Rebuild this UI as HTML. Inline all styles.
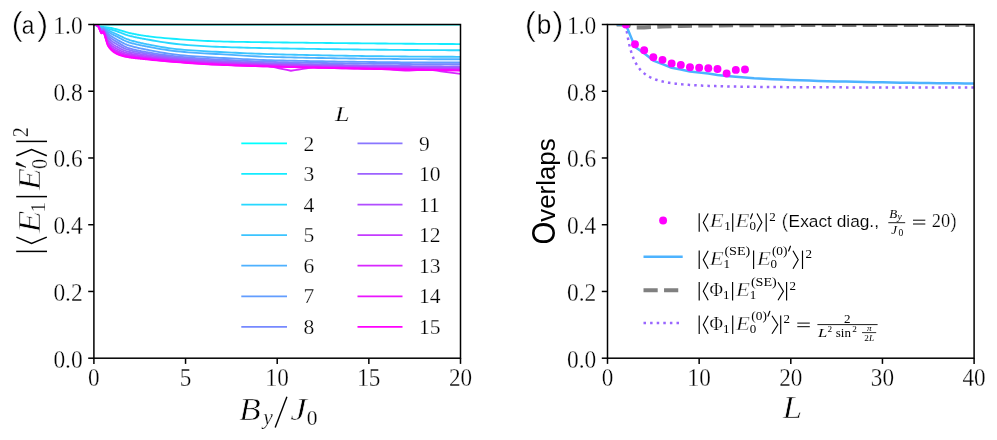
<!DOCTYPE html>
<html><head><meta charset="utf-8"><title>figure</title>
<style>html,body{margin:0;padding:0;background:#fff;}svg{display:block;}</style>
</head><body>
<svg style="will-change:transform" width="997" height="440" viewBox="0 0 997 440">
<rect width="997" height="440" fill="#fff"/>
<defs>
<clipPath id="ca"><rect x="93.9" y="24.5" width="366.6" height="333.7"/></clipPath>
<clipPath id="cb"><rect x="607.5" y="24.5" width="366.6" height="333.7"/></clipPath>
</defs>
<g clip-path="url(#ca)">
<path d="M93.9 24.5 L460.5 24.5" fill="none" stroke="#00ffff" stroke-width="1.85" stroke-linejoin="round" />
<path d="M93.9 24.5 L94.08 24.56 L94.26 24.62 L94.44 24.68 L94.61 24.74 L94.79 24.81 L94.97 24.87 L95.15 24.94 L95.33 25.01 L95.51 25.08 L95.69 25.15 L95.87 25.22 L96.04 25.3 L96.22 25.39 L96.4 25.47 L96.58 25.56 L96.76 25.65 L96.94 25.73 L97.12 25.82 L97.29 25.9 L97.47 25.97 L97.65 26.03 L97.83 26.09 L98.01 26.15 L98.19 26.2 L98.37 26.26 L98.55 26.3 L98.72 26.35 L98.9 26.39 L99.08 26.43 L99.26 26.47 L99.44 26.51 L99.62 26.54 L99.8 26.57 L99.97 26.6 L100.15 26.63 L100.33 26.65 L100.51 26.68 L100.69 26.7 L100.87 26.73 L101.05 26.76 L101.23 26.79 L101.4 26.81 L101.58 26.83 L101.76 26.85 L101.94 26.87 L102.12 26.88 L102.3 26.9 L102.48 26.92 L102.65 26.93 L102.83 26.95 L103.01 26.96 L103.19 26.98 L103.37 27 L103.55 27.02 L103.73 27.04 L103.9 27.06 L104.08 27.08 L104.26 27.1 L104.44 27.11 L104.62 27.13 L104.8 27.14 L104.98 27.16 L105.16 27.18 L105.33 27.19 L105.51 27.21 L105.69 27.23 L105.87 27.24 L106.05 27.26 L106.23 27.27 L106.41 27.29 L106.58 27.31 L106.76 27.32 L106.94 27.34 L107.12 27.35 L107.3 27.37 L107.48 27.38 L107.66 27.4 L107.84 27.42 L108.01 27.44 L108.85 27.55 L109.68 27.69 L110.52 27.84 L111.35 28.02 L112.19 28.2 L113.02 28.4 L113.85 28.6 L114.69 28.81 L115.52 29.02 L116.36 29.23 L117.19 29.44 L118.02 29.64 L118.86 29.86 L119.69 30.11 L120.53 30.36 L121.36 30.63 L122.2 30.9 L123.03 31.18 L123.86 31.45 L124.7 31.72 L125.53 31.97 L126.37 32.22 L127.2 32.44 L128.03 32.65 L128.87 32.85 L129.7 33.04 L130.54 33.23 L131.37 33.41 L132.21 33.59 L133.04 33.77 L133.87 33.94 L134.71 34.11 L135.54 34.27 L136.38 34.43 L137.21 34.59 L138.05 34.74 L138.88 34.89 L139.71 35.04 L140.55 35.18 L141.38 35.32 L142.22 35.45 L143.05 35.58 L143.88 35.71 L144.72 35.83 L145.55 35.95 L146.39 36.07 L147.22 36.18 L148.06 36.29 L148.89 36.4 L152.83 36.87 L156.78 37.31 L160.72 37.7 L164.67 38.07 L168.61 38.41 L172.56 38.73 L176.5 39.03 L180.45 39.31 L184.39 39.59 L188.33 39.86 L192.28 40.12 L196.22 40.37 L200.17 40.6 L204.11 40.82 L208.06 41.01 L212 41.18 L215.95 41.33 L219.89 41.45 L223.83 41.55 L227.78 41.64 L231.72 41.72 L235.67 41.8 L239.61 41.87 L243.56 41.93 L247.5 41.99 L251.45 42.05 L255.39 42.11 L259.33 42.16 L263.28 42.21 L267.22 42.26 L271.17 42.31 L275.11 42.36 L279.06 42.41 L283 42.46 L286.95 42.51 L290.89 42.56 L294.83 42.61 L298.78 42.66 L302.72 42.7 L306.67 42.75 L310.61 42.8 L314.56 42.84 L318.5 42.89 L322.44 42.93 L326.39 42.97 L330.33 43.01 L334.28 43.06 L338.22 43.1 L342.17 43.14 L346.11 43.18 L350.06 43.22 L354 43.26 L357.94 43.29 L361.89 43.33 L365.83 43.37 L369.78 43.4 L373.72 43.44 L377.67 43.48 L381.61 43.51 L385.56 43.54 L389.5 43.58 L393.44 43.61 L397.39 43.64 L401.33 43.67 L405.28 43.71 L409.22 43.74 L413.17 43.77 L417.11 43.8 L421.06 43.82 L425 43.85 L428.94 43.88 L432.89 43.91 L436.83 43.94 L440.78 43.96 L444.72 43.99 L448.67 44.01 L452.61 44.04 L456.56 44.06 L460.5 44.09" fill="none" stroke="#14ebff" stroke-width="1.85" stroke-linejoin="round" />
<path d="M93.9 24.5 L94.08 24.55 L94.26 24.61 L94.44 24.67 L94.61 24.73 L94.79 24.79 L94.97 24.86 L95.15 24.92 L95.33 24.99 L95.51 25.06 L95.69 25.13 L95.87 25.2 L96.04 25.27 L96.22 25.35 L96.4 25.44 L96.58 25.52 L96.76 25.61 L96.94 25.69 L97.12 25.78 L97.29 25.86 L97.47 25.93 L97.65 26.01 L97.83 26.07 L98.01 26.14 L98.19 26.21 L98.37 26.27 L98.55 26.33 L98.72 26.4 L98.9 26.46 L99.08 26.53 L99.26 26.59 L99.44 26.65 L99.62 26.71 L99.8 26.77 L99.97 26.82 L100.15 26.88 L100.33 26.93 L100.51 26.98 L100.69 27.02 L100.87 27.07 L101.05 27.12 L101.23 27.17 L101.4 27.21 L101.58 27.23 L101.76 27.24 L101.94 27.25 L102.12 27.26 L102.3 27.26 L102.48 27.26 L102.65 27.26 L102.83 27.26 L103.01 27.26 L103.19 27.27 L103.37 27.29 L103.55 27.33 L103.73 27.37 L103.9 27.42 L104.08 27.46 L104.26 27.5 L104.44 27.55 L104.62 27.6 L104.8 27.65 L104.98 27.7 L105.16 27.75 L105.33 27.8 L105.51 27.85 L105.69 27.91 L105.87 27.96 L106.05 28.01 L106.23 28.07 L106.41 28.12 L106.58 28.17 L106.76 28.21 L106.94 28.26 L107.12 28.31 L107.3 28.35 L107.48 28.4 L107.66 28.44 L107.84 28.49 L108.01 28.54 L108.85 28.78 L109.68 29.03 L110.52 29.29 L111.35 29.55 L112.19 29.82 L113.02 30.09 L113.85 30.36 L114.69 30.64 L115.52 30.92 L116.36 31.19 L117.19 31.47 L118.02 31.75 L118.86 32.04 L119.69 32.35 L120.53 32.67 L121.36 32.99 L122.2 33.32 L123.03 33.65 L123.86 33.98 L124.7 34.29 L125.53 34.59 L126.37 34.88 L127.2 35.14 L128.03 35.39 L128.87 35.62 L129.7 35.85 L130.54 36.06 L131.37 36.27 L132.21 36.47 L133.04 36.67 L133.87 36.86 L134.71 37.05 L135.54 37.23 L136.38 37.41 L137.21 37.59 L138.05 37.76 L138.88 37.92 L139.71 38.09 L140.55 38.25 L141.38 38.41 L142.22 38.57 L143.05 38.72 L143.88 38.88 L144.72 39.03 L145.55 39.18 L146.39 39.33 L147.22 39.48 L148.06 39.63 L148.89 39.78 L152.83 40.48 L156.78 41.17 L160.72 41.83 L164.67 42.45 L168.61 43.03 L172.56 43.54 L176.5 44 L180.45 44.39 L184.39 44.74 L188.33 45.06 L192.28 45.36 L196.22 45.64 L200.17 45.9 L204.11 46.13 L208.06 46.35 L212 46.55 L215.95 46.73 L219.89 46.89 L223.83 47.03 L227.78 47.17 L231.72 47.3 L235.67 47.42 L239.61 47.54 L243.56 47.65 L247.5 47.75 L251.45 47.84 L255.39 47.93 L259.33 48.02 L263.28 48.1 L267.22 48.18 L271.17 48.25 L275.11 48.32 L279.06 48.39 L283 48.46 L286.95 48.52 L290.89 48.59 L294.83 48.65 L298.78 48.71 L302.72 48.77 L306.67 48.83 L310.61 48.89 L314.56 48.95 L318.5 49.01 L322.44 49.06 L326.39 49.12 L330.33 49.17 L334.28 49.22 L338.22 49.27 L342.17 49.32 L346.11 49.37 L350.06 49.42 L354 49.46 L357.94 49.51 L361.89 49.55 L365.83 49.6 L369.78 49.64 L373.72 49.68 L377.67 49.72 L381.61 49.76 L385.56 49.79 L389.5 49.83 L393.44 49.86 L397.39 49.9 L401.33 49.93 L405.28 49.96 L409.22 49.99 L413.17 50.02 L417.11 50.04 L421.06 50.07 L425 50.09 L428.94 50.12 L432.89 50.14 L436.83 50.16 L440.78 50.18 L444.72 50.2 L448.67 50.22 L452.61 50.23 L456.56 50.25 L460.5 50.26" fill="none" stroke="#27d8ff" stroke-width="1.85" stroke-linejoin="round" />
<path d="M93.9 24.5 L94.08 24.55 L94.26 24.6 L94.44 24.66 L94.61 24.71 L94.79 24.77 L94.97 24.83 L95.15 24.89 L95.33 24.96 L95.51 25.02 L95.69 25.09 L95.87 25.16 L96.04 25.23 L96.22 25.31 L96.4 25.39 L96.58 25.47 L96.76 25.55 L96.94 25.63 L97.12 25.72 L97.29 25.8 L97.47 25.88 L97.65 25.97 L97.83 26.05 L98.01 26.13 L98.19 26.21 L98.37 26.29 L98.55 26.38 L98.72 26.46 L98.9 26.56 L99.08 26.66 L99.26 26.76 L99.44 26.86 L99.62 26.96 L99.8 27.06 L99.97 27.15 L100.15 27.24 L100.33 27.33 L100.51 27.42 L100.69 27.5 L100.87 27.58 L101.05 27.66 L101.23 27.74 L101.4 27.79 L101.58 27.82 L101.76 27.81 L101.94 27.81 L102.12 27.8 L102.3 27.79 L102.48 27.77 L102.65 27.74 L102.83 27.71 L103.01 27.69 L103.19 27.7 L103.37 27.74 L103.55 27.8 L103.73 27.87 L103.9 27.95 L104.08 28.02 L104.26 28.11 L104.44 28.2 L104.62 28.3 L104.8 28.4 L104.98 28.5 L105.16 28.6 L105.33 28.71 L105.51 28.81 L105.69 28.92 L105.87 29.03 L106.05 29.14 L106.23 29.24 L106.41 29.34 L106.58 29.44 L106.76 29.54 L106.94 29.63 L107.12 29.73 L107.3 29.82 L107.48 29.91 L107.66 30 L107.84 30.08 L108.01 30.17 L108.85 30.6 L109.68 31.01 L110.52 31.42 L111.35 31.83 L112.19 32.22 L113.02 32.62 L113.85 33.01 L114.69 33.39 L115.52 33.78 L116.36 34.16 L117.19 34.54 L118.02 34.92 L118.86 35.31 L119.69 35.71 L120.53 36.12 L121.36 36.54 L122.2 36.95 L123.03 37.35 L123.86 37.75 L124.7 38.13 L125.53 38.5 L126.37 38.84 L127.2 39.17 L128.03 39.46 L128.87 39.74 L129.7 40.02 L130.54 40.28 L131.37 40.53 L132.21 40.78 L133.04 41.01 L133.87 41.24 L134.71 41.47 L135.54 41.69 L136.38 41.9 L137.21 42.11 L138.05 42.31 L138.88 42.51 L139.71 42.7 L140.55 42.89 L141.38 43.08 L142.22 43.26 L143.05 43.44 L143.88 43.62 L144.72 43.79 L145.55 43.97 L146.39 44.14 L147.22 44.31 L148.06 44.47 L148.89 44.64 L152.83 45.41 L156.78 46.15 L160.72 46.85 L164.67 47.5 L168.61 48.1 L172.56 48.63 L176.5 49.1 L180.45 49.5 L184.39 49.84 L188.33 50.15 L192.28 50.44 L196.22 50.7 L200.17 50.94 L204.11 51.16 L208.06 51.38 L212 51.59 L215.95 51.79 L219.89 51.99 L223.83 52.19 L227.78 52.39 L231.72 52.59 L235.67 52.78 L239.61 52.96 L243.56 53.14 L247.5 53.32 L251.45 53.48 L255.39 53.64 L259.33 53.79 L263.28 53.93 L267.22 54.06 L271.17 54.17 L275.11 54.28 L279.06 54.38 L283 54.47 L286.95 54.56 L290.89 54.65 L294.83 54.74 L298.78 54.83 L302.72 54.92 L306.67 55 L310.61 55.09 L314.56 55.17 L318.5 55.25 L322.44 55.33 L326.39 55.4 L330.33 55.48 L334.28 55.55 L338.22 55.62 L342.17 55.69 L346.11 55.76 L350.06 55.83 L354 55.89 L357.94 55.95 L361.89 56.01 L365.83 56.07 L369.78 56.12 L373.72 56.18 L377.67 56.23 L381.61 56.28 L385.56 56.33 L389.5 56.37 L393.44 56.41 L397.39 56.45 L401.33 56.49 L405.28 56.53 L409.22 56.56 L413.17 56.59 L417.11 56.62 L421.06 56.65 L425 56.68 L428.94 56.7 L432.89 56.72 L436.83 56.74 L440.78 56.76 L444.72 56.77 L448.67 56.78 L452.61 56.79 L456.56 56.8 L460.5 56.8" fill="none" stroke="#3bc4ff" stroke-width="1.85" stroke-linejoin="round" />
<path d="M93.9 24.5 L94.08 24.55 L94.26 24.59 L94.44 24.64 L94.61 24.7 L94.79 24.75 L94.97 24.81 L95.15 24.87 L95.33 24.93 L95.51 24.99 L95.69 25.06 L95.87 25.12 L96.04 25.19 L96.22 25.26 L96.4 25.34 L96.58 25.42 L96.76 25.5 L96.94 25.58 L97.12 25.67 L97.29 25.75 L97.47 25.84 L97.65 25.93 L97.83 26.02 L98.01 26.11 L98.19 26.21 L98.37 26.31 L98.55 26.42 L98.72 26.53 L98.9 26.65 L99.08 26.79 L99.26 26.93 L99.44 27.07 L99.62 27.2 L99.8 27.33 L99.97 27.47 L100.15 27.6 L100.33 27.72 L100.51 27.84 L100.69 27.95 L100.87 28.06 L101.05 28.17 L101.23 28.27 L101.4 28.35 L101.58 28.38 L101.76 28.37 L101.94 28.35 L102.12 28.33 L102.3 28.3 L102.48 28.26 L102.65 28.2 L102.83 28.14 L103.01 28.11 L103.19 28.12 L103.37 28.17 L103.55 28.25 L103.73 28.35 L103.9 28.46 L104.08 28.56 L104.26 28.68 L104.44 28.82 L104.62 28.97 L104.8 29.12 L104.98 29.27 L105.16 29.42 L105.33 29.57 L105.51 29.73 L105.69 29.89 L105.87 30.05 L106.05 30.21 L106.23 30.37 L106.41 30.52 L106.58 30.67 L106.76 30.81 L106.94 30.95 L107.12 31.09 L107.3 31.23 L107.48 31.36 L107.66 31.5 L107.84 31.62 L108.01 31.74 L108.85 32.3 L109.68 32.82 L110.52 33.31 L111.35 33.78 L112.19 34.23 L113.02 34.67 L113.85 35.1 L114.69 35.52 L115.52 35.94 L116.36 36.36 L117.19 36.77 L118.02 37.19 L118.86 37.62 L119.69 38.06 L120.53 38.5 L121.36 38.95 L122.2 39.39 L123.03 39.82 L123.86 40.24 L124.7 40.64 L125.53 41.02 L126.37 41.37 L127.2 41.7 L128.03 42 L128.87 42.28 L129.7 42.54 L130.54 42.8 L131.37 43.04 L132.21 43.28 L133.04 43.5 L133.87 43.72 L134.71 43.93 L135.54 44.14 L136.38 44.34 L137.21 44.53 L138.05 44.72 L138.88 44.9 L139.71 45.08 L140.55 45.26 L141.38 45.43 L142.22 45.6 L143.05 45.77 L143.88 45.93 L144.72 46.1 L145.55 46.26 L146.39 46.42 L147.22 46.58 L148.06 46.74 L148.89 46.9 L152.83 47.64 L156.78 48.36 L160.72 49.05 L164.67 49.69 L168.61 50.28 L172.56 50.8 L176.5 51.27 L180.45 51.67 L184.39 52.01 L188.33 52.32 L192.28 52.6 L196.22 52.85 L200.17 53.09 L204.11 53.31 L208.06 53.53 L212 53.75 L215.95 53.97 L219.89 54.19 L223.83 54.42 L227.78 54.66 L231.72 54.9 L235.67 55.15 L239.61 55.39 L243.56 55.62 L247.5 55.85 L251.45 56.07 L255.39 56.27 L259.33 56.47 L263.28 56.64 L267.22 56.8 L271.17 56.93 L275.11 57.05 L279.06 57.15 L283 57.24 L286.95 57.33 L290.89 57.41 L294.83 57.5 L298.78 57.58 L302.72 57.66 L306.67 57.74 L310.61 57.82 L314.56 57.9 L318.5 57.97 L322.44 58.04 L326.39 58.11 L330.33 58.18 L334.28 58.24 L338.22 58.31 L342.17 58.37 L346.11 58.43 L350.06 58.49 L354 58.54 L357.94 58.59 L361.89 58.65 L365.83 58.7 L369.78 58.74 L373.72 58.79 L377.67 58.83 L381.61 58.87 L385.56 58.91 L389.5 58.95 L393.44 58.98 L397.39 59.02 L401.33 59.05 L405.28 59.08 L409.22 59.1 L413.17 59.13 L417.11 59.15 L421.06 59.17 L425 59.19 L428.94 59.21 L432.89 59.22 L436.83 59.24 L440.78 59.25 L444.72 59.26 L448.67 59.26 L452.61 59.27 L456.56 59.27 L460.5 59.27" fill="none" stroke="#4eb1ff" stroke-width="1.85" stroke-linejoin="round" />
<path d="M93.9 24.5 L94.08 24.54 L94.26 24.58 L94.44 24.63 L94.61 24.68 L94.79 24.73 L94.97 24.78 L95.15 24.84 L95.33 24.9 L95.51 24.96 L95.69 25.02 L95.87 25.08 L96.04 25.15 L96.22 25.22 L96.4 25.29 L96.58 25.36 L96.76 25.44 L96.94 25.52 L97.12 25.61 L97.29 25.69 L97.47 25.79 L97.65 25.88 L97.83 25.98 L98.01 26.09 L98.19 26.21 L98.37 26.33 L98.55 26.46 L98.72 26.6 L98.9 26.76 L99.08 26.93 L99.26 27.11 L99.44 27.3 L99.62 27.48 L99.8 27.65 L99.97 27.83 L100.15 28 L100.33 28.17 L100.51 28.33 L100.69 28.47 L100.87 28.61 L101.05 28.76 L101.23 28.89 L101.4 28.98 L101.58 29.02 L101.76 29.01 L101.94 28.98 L102.12 28.94 L102.3 28.89 L102.48 28.82 L102.65 28.73 L102.83 28.64 L103.01 28.58 L103.19 28.6 L103.37 28.66 L103.55 28.77 L103.73 28.9 L103.9 29.04 L104.08 29.18 L104.26 29.35 L104.44 29.53 L104.62 29.74 L104.8 29.95 L104.98 30.16 L105.16 30.36 L105.33 30.57 L105.51 30.79 L105.69 31.01 L105.87 31.23 L106.05 31.45 L106.23 31.66 L106.41 31.87 L106.58 32.07 L106.76 32.27 L106.94 32.47 L107.12 32.66 L107.3 32.85 L107.48 33.04 L107.66 33.22 L107.84 33.39 L108.01 33.54 L108.85 34.26 L109.68 34.93 L110.52 35.56 L111.35 36.16 L112.19 36.72 L113.02 37.26 L113.85 37.78 L114.69 38.28 L115.52 38.77 L116.36 39.25 L117.19 39.73 L118.02 40.2 L118.86 40.66 L119.69 41.13 L120.53 41.6 L121.36 42.05 L122.2 42.5 L123.03 42.93 L123.86 43.35 L124.7 43.75 L125.53 44.12 L126.37 44.47 L127.2 44.8 L128.03 45.1 L128.87 45.39 L129.7 45.65 L130.54 45.91 L131.37 46.16 L132.21 46.4 L133.04 46.63 L133.87 46.85 L134.71 47.06 L135.54 47.26 L136.38 47.46 L137.21 47.66 L138.05 47.85 L138.88 48.03 L139.71 48.22 L140.55 48.39 L141.38 48.57 L142.22 48.74 L143.05 48.91 L143.88 49.08 L144.72 49.25 L145.55 49.41 L146.39 49.58 L147.22 49.75 L148.06 49.91 L148.89 50.08 L152.83 50.85 L156.78 51.61 L160.72 52.33 L164.67 53 L168.61 53.63 L172.56 54.19 L176.5 54.68 L180.45 55.11 L184.39 55.47 L188.33 55.81 L192.28 56.11 L196.22 56.39 L200.17 56.65 L204.11 56.9 L208.06 57.13 L212 57.36 L215.95 57.58 L219.89 57.8 L223.83 58.02 L227.78 58.24 L231.72 58.46 L235.67 58.67 L239.61 58.88 L243.56 59.09 L247.5 59.28 L251.45 59.47 L255.39 59.64 L259.33 59.81 L263.28 59.96 L267.22 60.09 L271.17 60.22 L275.11 60.32 L279.06 60.41 L283 60.5 L286.95 60.59 L290.89 60.67 L294.83 60.76 L298.78 60.84 L302.72 60.92 L306.67 61 L310.61 61.07 L314.56 61.15 L318.5 61.22 L322.44 61.29 L326.39 61.36 L330.33 61.43 L334.28 61.5 L338.22 61.56 L342.17 61.62 L346.11 61.68 L350.06 61.74 L354 61.79 L357.94 61.85 L361.89 61.9 L365.83 61.95 L369.78 62 L373.72 62.04 L377.67 62.09 L381.61 62.13 L385.56 62.17 L389.5 62.21 L393.44 62.24 L397.39 62.28 L401.33 62.31 L405.28 62.34 L409.22 62.37 L413.17 62.39 L417.11 62.42 L421.06 62.44 L425 62.46 L428.94 62.48 L432.89 62.49 L436.83 62.5 L440.78 62.52 L444.72 62.53 L448.67 62.53 L452.61 62.54 L456.56 62.54 L460.5 62.54" fill="none" stroke="#629dff" stroke-width="1.85" stroke-linejoin="round" />
<path d="M93.9 24.5 L94.08 24.54 L94.26 24.57 L94.44 24.62 L94.61 24.66 L94.79 24.71 L94.97 24.76 L95.15 24.81 L95.33 24.86 L95.51 24.92 L95.69 24.98 L95.87 25.04 L96.04 25.1 L96.22 25.17 L96.4 25.24 L96.58 25.31 L96.76 25.38 L96.94 25.46 L97.12 25.55 L97.29 25.64 L97.47 25.73 L97.65 25.84 L97.83 25.95 L98.01 26.07 L98.19 26.21 L98.37 26.36 L98.55 26.51 L98.72 26.68 L98.9 26.87 L99.08 27.08 L99.26 27.31 L99.44 27.53 L99.62 27.76 L99.8 27.98 L99.97 28.19 L100.15 28.41 L100.33 28.63 L100.51 28.83 L100.69 29 L100.87 29.18 L101.05 29.36 L101.23 29.51 L101.4 29.63 L101.58 29.68 L101.76 29.67 L101.94 29.62 L102.12 29.56 L102.3 29.49 L102.48 29.4 L102.65 29.27 L102.83 29.14 L103.01 29.07 L103.19 29.08 L103.37 29.17 L103.55 29.3 L103.73 29.47 L103.9 29.64 L104.08 29.81 L104.26 30.02 L104.44 30.26 L104.62 30.52 L104.8 30.79 L104.98 31.06 L105.16 31.32 L105.33 31.59 L105.51 31.86 L105.69 32.14 L105.87 32.43 L106.05 32.71 L106.23 32.98 L106.41 33.25 L106.58 33.51 L106.76 33.76 L106.94 34.02 L107.12 34.27 L107.3 34.52 L107.48 34.75 L107.66 34.98 L107.84 35.19 L108.01 35.38 L108.85 36.22 L109.68 36.99 L110.52 37.69 L111.35 38.35 L112.19 38.96 L113.02 39.53 L113.85 40.08 L114.69 40.61 L115.52 41.12 L116.36 41.63 L117.19 42.13 L118.02 42.63 L118.86 43.14 L119.69 43.64 L120.53 44.14 L121.36 44.64 L122.2 45.12 L123.03 45.58 L123.86 46.02 L124.7 46.44 L125.53 46.84 L126.37 47.2 L127.2 47.54 L128.03 47.84 L128.87 48.12 L129.7 48.38 L130.54 48.64 L131.37 48.88 L132.21 49.11 L133.04 49.33 L133.87 49.54 L134.71 49.75 L135.54 49.94 L136.38 50.13 L137.21 50.32 L138.05 50.5 L138.88 50.67 L139.71 50.84 L140.55 51 L141.38 51.17 L142.22 51.32 L143.05 51.48 L143.88 51.63 L144.72 51.78 L145.55 51.93 L146.39 52.08 L147.22 52.23 L148.06 52.38 L148.89 52.52 L152.83 53.19 L156.78 53.82 L160.72 54.42 L164.67 54.97 L168.61 55.48 L172.56 55.95 L176.5 56.38 L180.45 56.77 L184.39 57.13 L188.33 57.46 L192.28 57.77 L196.22 58.06 L200.17 58.34 L204.11 58.6 L208.06 58.84 L212 59.08 L215.95 59.31 L219.89 59.53 L223.83 59.75 L227.78 59.97 L231.72 60.18 L235.67 60.39 L239.61 60.6 L243.56 60.79 L247.5 60.98 L251.45 61.16 L255.39 61.33 L259.33 61.49 L263.28 61.64 L267.22 61.77 L271.17 61.89 L275.11 61.99 L279.06 62.08 L283 62.17 L286.95 62.26 L290.89 62.34 L294.83 62.42 L298.78 62.51 L302.72 62.58 L306.67 62.66 L310.61 62.74 L314.56 62.81 L318.5 62.89 L322.44 62.96 L326.39 63.03 L330.33 63.09 L334.28 63.16 L338.22 63.22 L342.17 63.29 L346.11 63.35 L350.06 63.4 L354 63.46 L357.94 63.51 L361.89 63.57 L365.83 63.62 L369.78 63.66 L373.72 63.71 L377.67 63.75 L381.61 63.8 L385.56 63.84 L389.5 63.87 L393.44 63.91 L397.39 63.94 L401.33 63.98 L405.28 64.01 L409.22 64.03 L413.17 64.06 L417.11 64.08 L421.06 64.11 L425 64.13 L428.94 64.14 L432.89 64.16 L436.83 64.17 L440.78 64.18 L444.72 64.19 L448.67 64.2 L452.61 64.21 L456.56 64.21 L460.5 64.21" fill="none" stroke="#7689ff" stroke-width="1.85" stroke-linejoin="round" />
<path d="M93.9 24.5 L94.08 24.53 L94.26 24.56 L94.44 24.6 L94.61 24.64 L94.79 24.68 L94.97 24.73 L95.15 24.78 L95.33 24.83 L95.51 24.88 L95.69 24.93 L95.87 24.99 L96.04 25.05 L96.22 25.11 L96.4 25.18 L96.58 25.25 L96.76 25.32 L96.94 25.4 L97.12 25.48 L97.29 25.58 L97.47 25.67 L97.65 25.78 L97.83 25.91 L98.01 26.05 L98.19 26.21 L98.37 26.38 L98.55 26.57 L98.72 26.77 L98.9 26.99 L99.08 27.25 L99.26 27.52 L99.44 27.8 L99.62 28.08 L99.8 28.34 L99.97 28.61 L100.15 28.88 L100.33 29.15 L100.51 29.39 L100.69 29.61 L100.87 29.82 L101.05 30.03 L101.23 30.23 L101.4 30.37 L101.58 30.43 L101.76 30.41 L101.94 30.34 L102.12 30.26 L102.3 30.16 L102.48 30.05 L102.65 29.88 L102.83 29.71 L103.01 29.62 L103.19 29.64 L103.37 29.74 L103.55 29.9 L103.73 30.1 L103.9 30.32 L104.08 30.53 L104.26 30.79 L104.44 31.09 L104.62 31.41 L104.8 31.75 L104.98 32.08 L105.16 32.41 L105.33 32.74 L105.51 33.08 L105.69 33.43 L105.87 33.79 L106.05 34.14 L106.23 34.48 L106.41 34.81 L106.58 35.13 L106.76 35.45 L106.94 35.78 L107.12 36.1 L107.3 36.41 L107.48 36.71 L107.66 36.99 L107.84 37.24 L108.01 37.46 L108.85 38.41 L109.68 39.26 L110.52 40.02 L111.35 40.72 L112.19 41.36 L113.02 41.95 L113.85 42.51 L114.69 43.03 L115.52 43.54 L116.36 44.03 L117.19 44.52 L118.02 45 L118.86 45.48 L119.69 45.95 L120.53 46.41 L121.36 46.86 L122.2 47.29 L123.03 47.71 L123.86 48.1 L124.7 48.47 L125.53 48.82 L126.37 49.15 L127.2 49.44 L128.03 49.71 L128.87 49.96 L129.7 50.2 L130.54 50.43 L131.37 50.65 L132.21 50.85 L133.04 51.05 L133.87 51.24 L134.71 51.42 L135.54 51.6 L136.38 51.77 L137.21 51.93 L138.05 52.09 L138.88 52.25 L139.71 52.4 L140.55 52.55 L141.38 52.69 L142.22 52.83 L143.05 52.97 L143.88 53.11 L144.72 53.25 L145.55 53.39 L146.39 53.53 L147.22 53.66 L148.06 53.8 L148.89 53.93 L152.83 54.56 L156.78 55.15 L160.72 55.71 L164.67 56.23 L168.61 56.73 L172.56 57.18 L176.5 57.6 L180.45 57.99 L184.39 58.35 L188.33 58.69 L192.28 59.01 L196.22 59.31 L200.17 59.6 L204.11 59.87 L208.06 60.13 L212 60.37 L215.95 60.61 L219.89 60.84 L223.83 61.06 L227.78 61.28 L231.72 61.49 L235.67 61.7 L239.61 61.9 L243.56 62.09 L247.5 62.28 L251.45 62.46 L255.39 62.63 L259.33 62.79 L263.28 62.94 L267.22 63.08 L271.17 63.22 L275.11 63.34 L279.06 63.45 L283 63.56 L286.95 63.66 L290.89 63.77 L294.83 63.87 L298.78 63.97 L302.72 64.07 L306.67 64.17 L310.61 64.27 L314.56 64.36 L318.5 64.45 L322.44 64.55 L326.39 64.63 L330.33 64.72 L334.28 64.81 L338.22 64.89 L342.17 64.97 L346.11 65.05 L350.06 65.12 L354 65.2 L357.94 65.27 L361.89 65.34 L365.83 65.41 L369.78 65.47 L373.72 65.54 L377.67 65.6 L381.61 65.66 L385.56 65.72 L389.5 65.77 L393.44 65.82 L397.39 65.87 L401.33 65.92 L405.28 65.97 L409.22 66.01 L413.17 66.05 L417.11 66.09 L421.06 66.13 L425 66.16 L428.94 66.2 L432.89 66.23 L436.83 66.25 L440.78 66.28 L444.72 66.3 L448.67 66.32 L452.61 66.34 L456.56 66.36 L460.5 66.37" fill="none" stroke="#8976ff" stroke-width="1.85" stroke-linejoin="round" />
<path d="M93.9 24.5 L94.08 24.52 L94.26 24.55 L94.44 24.58 L94.61 24.62 L94.79 24.66 L94.97 24.7 L95.15 24.74 L95.33 24.79 L95.51 24.84 L95.69 24.89 L95.87 24.94 L96.04 25 L96.22 25.06 L96.4 25.12 L96.58 25.19 L96.76 25.26 L96.94 25.34 L97.12 25.42 L97.29 25.52 L97.47 25.62 L97.65 25.73 L97.83 25.86 L98.01 26.03 L98.19 26.21 L98.37 26.41 L98.55 26.62 L98.72 26.85 L98.9 27.12 L99.08 27.42 L99.26 27.74 L99.44 28.07 L99.62 28.4 L99.8 28.71 L99.97 29.03 L100.15 29.35 L100.33 29.67 L100.51 29.96 L100.69 30.21 L100.87 30.46 L101.05 30.71 L101.23 30.94 L101.4 31.1 L101.58 31.17 L101.76 31.15 L101.94 31.07 L102.12 30.96 L102.3 30.84 L102.48 30.7 L102.65 30.49 L102.83 30.29 L103.01 30.17 L103.19 30.19 L103.37 30.31 L103.55 30.5 L103.73 30.74 L103.9 30.99 L104.08 31.25 L104.26 31.56 L104.44 31.91 L104.62 32.3 L104.8 32.7 L104.98 33.11 L105.16 33.49 L105.33 33.89 L105.51 34.3 L105.69 34.72 L105.87 35.15 L106.05 35.56 L106.23 35.98 L106.41 36.38 L106.58 36.76 L106.76 37.14 L106.94 37.54 L107.12 37.93 L107.3 38.31 L107.48 38.67 L107.66 39 L107.84 39.29 L108.01 39.54 L108.85 40.59 L109.68 41.52 L110.52 42.34 L111.35 43.08 L112.19 43.75 L113.02 44.36 L113.85 44.93 L114.69 45.46 L115.52 45.96 L116.36 46.44 L117.19 46.91 L118.02 47.37 L118.86 47.82 L119.69 48.26 L120.53 48.68 L121.36 49.08 L122.2 49.46 L123.03 49.83 L123.86 50.17 L124.7 50.5 L125.53 50.8 L126.37 51.09 L127.2 51.35 L128.03 51.59 L128.87 51.81 L129.7 52.02 L130.54 52.22 L131.37 52.42 L132.21 52.6 L133.04 52.77 L133.87 52.94 L134.71 53.1 L135.54 53.26 L136.38 53.41 L137.21 53.55 L138.05 53.69 L138.88 53.83 L139.71 53.96 L140.55 54.1 L141.38 54.22 L142.22 54.35 L143.05 54.48 L143.88 54.6 L144.72 54.73 L145.55 54.85 L146.39 54.97 L147.22 55.1 L148.06 55.22 L148.89 55.34 L152.83 55.91 L156.78 56.46 L160.72 56.97 L164.67 57.46 L168.61 57.91 L172.56 58.34 L176.5 58.74 L180.45 59.11 L184.39 59.45 L188.33 59.78 L192.28 60.09 L196.22 60.38 L200.17 60.66 L204.11 60.92 L208.06 61.18 L212 61.41 L215.95 61.64 L219.89 61.86 L223.83 62.07 L227.78 62.27 L231.72 62.47 L235.67 62.66 L239.61 62.85 L243.56 63.02 L247.5 63.19 L251.45 63.36 L255.39 63.51 L259.33 63.66 L263.28 63.81 L267.22 63.94 L271.17 64.07 L275.11 64.19 L279.06 64.3 L283 64.41 L286.95 64.52 L290.89 64.62 L294.83 64.73 L298.78 64.83 L302.72 64.93 L306.67 65.03 L310.61 65.12 L314.56 65.22 L318.5 65.31 L322.44 65.4 L326.39 65.49 L330.33 65.58 L334.28 65.67 L338.22 65.75 L342.17 65.83 L346.11 65.91 L350.06 65.99 L354 66.07 L357.94 66.14 L361.89 66.22 L365.83 66.29 L369.78 66.36 L373.72 66.42 L377.67 66.49 L381.61 66.55 L385.56 66.61 L389.5 66.67 L393.44 66.73 L397.39 66.79 L401.33 66.84 L405.28 66.89 L409.22 66.94 L413.17 66.99 L417.11 67.04 L421.06 67.08 L425 67.12 L428.94 67.16 L432.89 67.2 L436.83 67.24 L440.78 67.27 L444.72 67.31 L448.67 67.34 L452.61 67.37 L456.56 67.4 L460.5 67.42" fill="none" stroke="#9d62ff" stroke-width="1.85" stroke-linejoin="round" />
<path d="M93.9 24.5 L94.08 24.52 L94.26 24.54 L94.44 24.57 L94.61 24.6 L94.79 24.64 L94.97 24.67 L95.15 24.71 L95.33 24.76 L95.51 24.8 L95.69 24.85 L95.87 24.9 L96.04 24.95 L96.22 25.01 L96.4 25.07 L96.58 25.13 L96.76 25.2 L96.94 25.28 L97.12 25.37 L97.29 25.46 L97.47 25.56 L97.65 25.68 L97.83 25.83 L98.01 26 L98.19 26.21 L98.37 26.43 L98.55 26.67 L98.72 26.93 L98.9 27.23 L99.08 27.57 L99.26 27.93 L99.44 28.31 L99.62 28.69 L99.8 29.04 L99.97 29.4 L100.15 29.77 L100.33 30.13 L100.51 30.46 L100.69 30.75 L100.87 31.04 L101.05 31.32 L101.23 31.58 L101.4 31.76 L101.58 31.84 L101.76 31.81 L101.94 31.72 L102.12 31.59 L102.3 31.45 L102.48 31.28 L102.65 31.04 L102.83 30.8 L103.01 30.66 L103.19 30.69 L103.37 30.83 L103.55 31.05 L103.73 31.32 L103.9 31.6 L104.08 31.89 L104.26 32.25 L104.44 32.65 L104.62 33.1 L104.8 33.56 L104.98 34.03 L105.16 34.47 L105.33 34.93 L105.51 35.4 L105.69 35.88 L105.87 36.37 L106.05 36.85 L106.23 37.32 L106.41 37.78 L106.58 38.22 L106.76 38.67 L106.94 39.12 L107.12 39.58 L107.3 40.02 L107.48 40.43 L107.66 40.81 L107.84 41.14 L108.01 41.42 L108.85 42.54 L109.68 43.54 L110.52 44.42 L111.35 45.2 L112.19 45.9 L113.02 46.53 L113.85 47.11 L114.69 47.65 L115.52 48.14 L116.36 48.61 L117.19 49.06 L118.02 49.5 L118.86 49.92 L119.69 50.32 L120.53 50.71 L121.36 51.07 L122.2 51.41 L123.03 51.73 L123.86 52.03 L124.7 52.32 L125.53 52.58 L126.37 52.83 L127.2 53.06 L128.03 53.27 L128.87 53.47 L129.7 53.66 L130.54 53.84 L131.37 54.01 L132.21 54.17 L133.04 54.32 L133.87 54.47 L134.71 54.61 L135.54 54.75 L136.38 54.88 L137.21 55.01 L138.05 55.14 L138.88 55.26 L139.71 55.37 L140.55 55.49 L141.38 55.61 L142.22 55.72 L143.05 55.83 L143.88 55.94 L144.72 56.05 L145.55 56.16 L146.39 56.27 L147.22 56.39 L148.06 56.5 L148.89 56.61 L152.83 57.13 L156.78 57.63 L160.72 58.1 L164.67 58.55 L168.61 58.98 L172.56 59.38 L176.5 59.76 L180.45 60.1 L184.39 60.43 L188.33 60.75 L192.28 61.04 L196.22 61.33 L200.17 61.6 L204.11 61.86 L208.06 62.1 L212 62.33 L215.95 62.55 L219.89 62.76 L223.83 62.95 L227.78 63.14 L231.72 63.33 L235.67 63.5 L239.61 63.67 L243.56 63.83 L247.5 63.99 L251.45 64.14 L255.39 64.28 L259.33 64.42 L263.28 64.55 L267.22 64.68 L271.17 64.8 L275.11 64.92 L279.06 65.03 L283 65.14 L286.95 65.24 L290.89 65.35 L294.83 65.45 L298.78 65.55 L302.72 65.65 L306.67 65.75 L310.61 65.85 L314.56 65.94 L318.5 66.03 L322.44 66.12 L326.39 66.21 L330.33 66.3 L334.28 66.39 L338.22 66.47 L342.17 66.56 L346.11 66.64 L350.06 66.72 L354 66.79 L357.94 66.87 L361.89 66.95 L365.83 67.02 L369.78 67.09 L373.72 67.16 L377.67 67.23 L381.61 67.29 L385.56 67.36 L389.5 67.42 L393.44 67.48 L397.39 67.54 L401.33 67.6 L405.28 67.66 L409.22 67.71 L413.17 67.77 L417.11 67.82 L421.06 67.87 L425 67.92 L428.94 67.96 L432.89 68.01 L436.83 68.05 L440.78 68.1 L444.72 68.14 L448.67 68.18 L452.61 68.21 L456.56 68.25 L460.5 68.28" fill="none" stroke="#b14eff" stroke-width="1.85" stroke-linejoin="round" />
<path d="M93.9 24.5 L94.08 24.51 L94.26 24.53 L94.44 24.56 L94.61 24.59 L94.79 24.62 L94.97 24.65 L95.15 24.69 L95.33 24.73 L95.51 24.77 L95.69 24.82 L95.87 24.86 L96.04 24.91 L96.22 24.96 L96.4 25.02 L96.58 25.09 L96.76 25.16 L96.94 25.24 L97.12 25.32 L97.29 25.42 L97.47 25.52 L97.65 25.64 L97.83 25.79 L98.01 25.99 L98.19 26.21 L98.37 26.45 L98.55 26.72 L98.72 26.99 L98.9 27.32 L99.08 27.69 L99.26 28.1 L99.44 28.51 L99.62 28.93 L99.8 29.32 L99.97 29.72 L100.15 30.12 L100.33 30.52 L100.51 30.89 L100.69 31.21 L100.87 31.52 L101.05 31.83 L101.23 32.11 L101.4 32.32 L101.58 32.4 L101.76 32.37 L101.94 32.26 L102.12 32.12 L102.3 31.96 L102.48 31.77 L102.65 31.49 L102.83 31.23 L103.01 31.08 L103.19 31.1 L103.37 31.25 L103.55 31.5 L103.73 31.79 L103.9 32.11 L104.08 32.43 L104.26 32.82 L104.44 33.27 L104.62 33.77 L104.8 34.28 L104.98 34.79 L105.16 35.29 L105.33 35.79 L105.51 36.32 L105.69 36.85 L105.87 37.39 L106.05 37.92 L106.23 38.45 L106.41 38.95 L106.58 39.44 L106.76 39.94 L106.94 40.44 L107.12 40.95 L107.3 41.44 L107.48 41.9 L107.66 42.32 L107.84 42.69 L108.01 42.98 L108.85 44.17 L109.68 45.22 L110.52 46.14 L111.35 46.96 L112.19 47.69 L113.02 48.34 L113.85 48.93 L114.69 49.47 L115.52 49.97 L116.36 50.43 L117.19 50.86 L118.02 51.28 L118.86 51.67 L119.69 52.04 L120.53 52.39 L121.36 52.72 L122.2 53.02 L123.03 53.31 L123.86 53.58 L124.7 53.83 L125.53 54.07 L126.37 54.29 L127.2 54.49 L128.03 54.68 L128.87 54.86 L129.7 55.03 L130.54 55.19 L131.37 55.34 L132.21 55.48 L133.04 55.62 L133.87 55.75 L134.71 55.87 L135.54 56 L136.38 56.11 L137.21 56.23 L138.05 56.34 L138.88 56.44 L139.71 56.55 L140.55 56.65 L141.38 56.76 L142.22 56.86 L143.05 56.96 L143.88 57.06 L144.72 57.16 L145.55 57.26 L146.39 57.36 L147.22 57.46 L148.06 57.56 L148.89 57.67 L152.83 58.14 L156.78 58.61 L160.72 59.05 L164.67 59.47 L168.61 59.88 L172.56 60.26 L176.5 60.62 L180.45 60.95 L184.39 61.27 L188.33 61.57 L192.28 61.86 L196.22 62.14 L200.17 62.41 L204.11 62.66 L208.06 62.9 L212 63.13 L215.95 63.34 L219.89 63.54 L223.83 63.73 L227.78 63.91 L231.72 64.08 L235.67 64.25 L239.61 64.4 L243.56 64.56 L247.5 64.7 L251.45 64.84 L255.39 64.98 L259.33 65.11 L263.28 65.23 L267.22 65.36 L271.17 65.47 L275.11 65.59 L279.06 65.7 L283 65.81 L286.95 65.92 L290.89 66.02 L294.83 66.13 L298.78 66.23 L302.72 66.33 L306.67 66.43 L310.61 66.53 L314.56 66.62 L318.5 66.72 L322.44 66.81 L326.39 66.9 L330.33 66.99 L334.28 67.08 L338.22 67.16 L342.17 67.25 L346.11 67.33 L350.06 67.42 L354 67.5 L357.94 67.57 L361.89 67.65 L365.83 67.73 L369.78 67.8 L373.72 67.88 L377.67 67.95 L381.61 68.02 L385.56 68.09 L389.5 68.16 L393.44 68.22 L397.39 68.29 L401.33 68.35 L405.28 68.41 L409.22 68.48 L413.17 68.54 L417.11 68.59 L421.06 68.65 L425 68.71 L428.94 68.76 L432.89 68.81 L436.83 68.87 L440.78 68.92 L444.72 68.96 L448.67 69.01 L452.61 69.06 L456.56 69.1 L460.5 69.15" fill="none" stroke="#c43bff" stroke-width="1.85" stroke-linejoin="round" />
<path d="M93.9 24.5 L94.08 24.51 L94.26 24.53 L94.44 24.55 L94.61 24.57 L94.79 24.6 L94.97 24.64 L95.15 24.67 L95.33 24.71 L95.51 24.75 L95.69 24.79 L95.87 24.83 L96.04 24.88 L96.22 24.93 L96.4 24.99 L96.58 25.05 L96.76 25.12 L96.94 25.2 L97.12 25.29 L97.29 25.38 L97.47 25.49 L97.65 25.6 L97.83 25.77 L98.01 25.97 L98.19 26.21 L98.37 26.47 L98.55 26.75 L98.72 27.04 L98.9 27.39 L99.08 27.79 L99.26 28.23 L99.44 28.68 L99.62 29.12 L99.8 29.54 L99.97 29.97 L100.15 30.4 L100.33 30.83 L100.51 31.23 L100.69 31.57 L100.87 31.9 L101.05 32.24 L101.23 32.54 L101.4 32.76 L101.58 32.85 L101.76 32.81 L101.94 32.7 L102.12 32.54 L102.3 32.37 L102.48 32.16 L102.65 31.86 L102.83 31.57 L103.01 31.41 L103.19 31.43 L103.37 31.6 L103.55 31.86 L103.73 32.18 L103.9 32.51 L104.08 32.86 L104.26 33.28 L104.44 33.77 L104.62 34.3 L104.8 34.85 L104.98 35.41 L105.16 35.94 L105.33 36.49 L105.51 37.05 L105.69 37.63 L105.87 38.2 L106.05 38.78 L106.23 39.34 L106.41 39.89 L106.58 40.42 L106.76 40.95 L106.94 41.5 L107.12 42.05 L107.3 42.58 L107.48 43.08 L107.66 43.53 L107.84 43.92 L108.01 44.23 L108.85 45.47 L109.68 46.56 L110.52 47.52 L111.35 48.37 L112.19 49.12 L113.02 49.79 L113.85 50.39 L114.69 50.94 L115.52 51.43 L116.36 51.88 L117.19 52.3 L118.02 52.7 L118.86 53.07 L119.69 53.41 L120.53 53.74 L121.36 54.03 L122.2 54.31 L123.03 54.57 L123.86 54.82 L124.7 55.04 L125.53 55.25 L126.37 55.45 L127.2 55.63 L128.03 55.8 L128.87 55.97 L129.7 56.12 L130.54 56.26 L131.37 56.4 L132.21 56.53 L133.04 56.65 L133.87 56.77 L134.71 56.88 L135.54 56.99 L136.38 57.1 L137.21 57.2 L138.05 57.3 L138.88 57.39 L139.71 57.49 L140.55 57.58 L141.38 57.68 L142.22 57.77 L143.05 57.86 L143.88 57.95 L144.72 58.04 L145.55 58.13 L146.39 58.23 L147.22 58.32 L148.06 58.42 L148.89 58.51 L152.83 58.96 L156.78 59.39 L160.72 59.81 L164.67 60.21 L168.61 60.6 L172.56 60.96 L176.5 61.31 L180.45 61.63 L184.39 61.94 L188.33 62.24 L192.28 62.52 L196.22 62.8 L200.17 63.07 L204.11 63.32 L208.06 63.56 L212 63.78 L215.95 63.99 L219.89 64.18 L223.83 64.37 L227.78 64.54 L231.72 64.7 L235.67 64.86 L239.61 65.01 L243.56 65.15 L247.5 65.29 L251.45 65.43 L255.39 65.55 L259.33 65.68 L263.28 65.8 L267.22 65.92 L271.17 66.61 L275.11 67.44 L279.06 68.27 L283 69.1 L286.95 69.92 L290.89 70.75 L294.83 70.15 L298.78 69.54 L302.72 68.92 L306.67 68.31 L310.61 67.69 L314.56 67.19 L318.5 67.29 L322.44 67.38 L326.39 67.48 L330.33 67.57 L334.28 67.66 L338.22 67.75 L342.17 67.83 L346.11 67.92 L350.06 68.01 L354 68.09 L357.94 68.17 L361.89 68.25 L365.83 68.33 L369.78 68.41 L373.72 68.49 L377.67 68.56 L381.61 68.64 L385.56 68.71 L389.5 68.78 L393.44 68.85 L397.39 68.92 L401.33 68.99 L405.28 69.06 L409.22 69.13 L413.17 69.19 L417.11 69.26 L421.06 69.32 L425 69.38 L428.94 69.62 L432.89 70.16 L436.83 70.69 L440.78 71.23 L444.72 71.76 L448.67 72.3 L452.61 72.83 L456.56 73.36 L460.5 73.89" fill="none" stroke="#d827ff" stroke-width="1.85" stroke-linejoin="round" />
<path d="M93.9 24.5 L94.08 24.51 L94.26 24.52 L94.44 24.54 L94.61 24.56 L94.79 24.59 L94.97 24.62 L95.15 24.66 L95.33 24.69 L95.51 24.73 L95.69 24.77 L95.87 24.81 L96.04 24.86 L96.22 24.91 L96.4 24.96 L96.58 25.03 L96.76 25.1 L96.94 25.17 L97.12 25.26 L97.29 25.35 L97.47 25.46 L97.65 25.58 L97.83 25.75 L98.01 25.96 L98.19 26.21 L98.37 26.48 L98.55 26.77 L98.72 27.08 L98.9 27.45 L99.08 27.87 L99.26 28.33 L99.44 28.8 L99.62 29.26 L99.8 29.7 L99.97 30.15 L100.15 30.61 L100.33 31.06 L100.51 31.48 L100.69 31.84 L100.87 32.19 L101.05 32.54 L101.23 32.86 L101.4 33.09 L101.58 33.19 L101.76 33.14 L101.94 33.02 L102.12 32.86 L102.3 32.67 L102.48 32.45 L102.65 32.13 L102.83 31.83 L103.01 31.65 L103.19 31.68 L103.37 31.85 L103.55 32.13 L103.73 32.46 L103.9 32.82 L104.08 33.18 L104.26 33.63 L104.44 34.14 L104.62 34.7 L104.8 35.28 L104.98 35.87 L105.16 36.43 L105.33 37 L105.51 37.6 L105.69 38.21 L105.87 38.82 L106.05 39.42 L106.23 40.02 L106.41 40.6 L106.58 41.15 L106.76 41.71 L106.94 42.29 L107.12 42.87 L107.3 43.44 L107.48 43.96 L107.66 44.44 L107.84 44.85 L108.01 45.17 L108.85 46.44 L109.68 47.57 L110.52 48.56 L111.35 49.43 L112.19 50.2 L113.02 50.88 L113.85 51.49 L114.69 52.04 L115.52 52.53 L116.36 52.98 L117.19 53.39 L118.02 53.76 L118.86 54.12 L119.69 54.44 L120.53 54.74 L121.36 55.02 L122.2 55.28 L123.03 55.52 L123.86 55.74 L124.7 55.95 L125.53 56.14 L126.37 56.32 L127.2 56.49 L128.03 56.65 L128.87 56.8 L129.7 56.94 L130.54 57.07 L131.37 57.19 L132.21 57.31 L133.04 57.43 L133.87 57.54 L134.71 57.64 L135.54 57.74 L136.38 57.83 L137.21 57.93 L138.05 58.02 L138.88 58.11 L139.71 58.19 L140.55 58.28 L141.38 58.37 L142.22 58.45 L143.05 58.53 L143.88 58.62 L144.72 58.7 L145.55 58.79 L146.39 58.88 L147.22 58.96 L148.06 59.05 L148.89 59.14 L152.83 59.57 L156.78 59.98 L160.72 60.38 L164.67 60.77 L168.61 61.14 L172.56 61.49 L176.5 61.83 L180.45 62.14 L184.39 62.45 L188.33 62.74 L192.28 63.03 L196.22 63.3 L200.17 63.57 L204.11 63.82 L208.06 64.06 L212 64.28 L215.95 64.49 L219.89 64.68 L223.83 64.86 L227.78 65.03 L231.72 65.19 L235.67 65.34 L239.61 65.48 L243.56 65.62 L247.5 65.76 L251.45 65.89 L255.39 66.01 L259.33 66.13 L263.28 66.25 L267.22 66.37 L271.17 66.48 L275.11 66.6 L279.06 66.71 L283 66.82 L286.95 66.93 L290.89 67.04 L294.83 67.14 L298.78 67.25 L302.72 67.35 L306.67 67.45 L310.61 67.56 L314.56 67.65 L318.5 67.75 L322.44 67.85 L326.39 67.94 L330.33 68.04 L334.28 68.13 L338.22 68.22 L342.17 68.31 L346.11 68.4 L350.06 68.49 L354 68.58 L357.94 68.66 L361.89 68.74 L365.83 68.83 L369.78 68.91 L373.72 68.99 L377.67 69.07 L381.61 69.15 L385.56 69.23 L389.5 69.43 L393.44 69.72 L397.39 70.01 L401.33 70.3 L405.28 70.59 L409.22 70.47 L413.17 70.32 L417.11 70.18 L421.06 70.03 L425 69.94 L428.94 70.01 L432.89 70.08 L436.83 70.14 L440.78 70.2 L444.72 70.27 L448.67 70.33 L452.61 70.39 L456.56 70.45 L460.5 70.51" fill="none" stroke="#eb14ff" stroke-width="1.85" stroke-linejoin="round" />
<path d="M93.9 24.5 L94.08 24.51 L94.26 24.52 L94.44 24.54 L94.61 24.56 L94.79 24.59 L94.97 24.61 L95.15 24.65 L95.33 24.68 L95.51 24.72 L95.69 24.76 L95.87 24.8 L96.04 24.84 L96.22 24.89 L96.4 24.95 L96.58 25.01 L96.76 25.08 L96.94 25.16 L97.12 25.24 L97.29 25.34 L97.47 25.44 L97.65 25.56 L97.83 25.73 L98.01 25.95 L98.19 26.21 L98.37 26.49 L98.55 26.79 L98.72 27.11 L98.9 27.49 L99.08 27.92 L99.26 28.39 L99.44 28.88 L99.62 29.36 L99.8 29.81 L99.97 30.28 L100.15 30.75 L100.33 31.22 L100.51 31.65 L100.69 32.02 L100.87 32.38 L101.05 32.75 L101.23 33.07 L101.4 33.31 L101.58 33.41 L101.76 33.37 L101.94 33.24 L102.12 33.07 L102.3 32.88 L102.48 32.65 L102.65 32.32 L102.83 32 L103.01 31.82 L103.19 31.85 L103.37 32.03 L103.55 32.31 L103.73 32.65 L103.9 33.02 L104.08 33.4 L104.26 33.85 L104.44 34.39 L104.62 34.97 L104.8 35.57 L104.98 36.17 L105.16 36.75 L105.33 37.35 L105.51 37.97 L105.69 38.59 L105.87 39.22 L106.05 39.85 L106.23 40.47 L106.41 41.06 L106.58 41.64 L106.76 42.22 L106.94 42.82 L107.12 43.42 L107.3 44.01 L107.48 44.55 L107.66 45.04 L107.84 45.46 L108.01 45.79 L108.85 47.09 L109.68 48.24 L110.52 49.24 L111.35 50.13 L112.19 50.91 L113.02 51.61 L113.85 52.22 L114.69 52.77 L115.52 53.26 L116.36 53.7 L117.19 54.11 L118.02 54.47 L118.86 54.81 L119.69 55.13 L120.53 55.41 L121.36 55.68 L122.2 55.92 L123.03 56.15 L123.86 56.36 L124.7 56.55 L125.53 56.73 L126.37 56.9 L127.2 57.06 L128.03 57.21 L128.87 57.35 L129.7 57.48 L130.54 57.61 L131.37 57.73 L132.21 57.84 L133.04 57.95 L133.87 58.05 L134.71 58.14 L135.54 58.24 L136.38 58.33 L137.21 58.42 L138.05 58.5 L138.88 58.59 L139.71 58.67 L140.55 58.75 L141.38 58.83 L142.22 58.91 L143.05 58.99 L143.88 59.07 L144.72 59.15 L145.55 59.23 L146.39 59.31 L147.22 59.4 L148.06 59.48 L148.89 59.57 L152.83 59.97 L156.78 60.36 L160.72 60.75 L164.67 61.12 L168.61 61.47 L172.56 61.81 L176.5 62.14 L180.45 62.44 L184.39 62.73 L188.33 63.01 L192.28 63.29 L196.22 63.55 L200.17 63.81 L204.11 64.05 L208.06 64.28 L212 64.49 L215.95 64.69 L219.89 64.87 L223.83 65.04 L227.78 65.2 L231.72 65.35 L235.67 65.49 L239.61 65.62 L243.56 65.75 L247.5 65.88 L251.45 66 L255.39 66.11 L259.33 66.22 L263.28 66.33 L267.22 66.44 L271.17 66.55 L275.11 66.66 L279.06 66.76 L283 66.87 L286.95 66.97 L290.89 67.07 L294.83 67.17 L298.78 67.27 L302.72 67.37 L306.67 67.47 L310.61 67.56 L314.56 67.65 L318.5 67.75 L322.44 67.84 L326.39 67.93 L330.33 68.02 L334.28 68.1 L338.22 68.19 L342.17 68.28 L346.11 68.36 L350.06 68.44 L354 68.53 L357.94 68.61 L361.89 68.69 L365.83 68.77 L369.78 68.84 L373.72 68.92 L377.67 69 L381.61 69.07 L385.56 69.15 L389.5 69.22 L393.44 69.29 L397.39 69.36 L401.33 69.43 L405.28 69.5 L409.22 69.57 L413.17 69.64 L417.11 69.71 L421.06 69.77 L425 69.84 L428.94 69.9 L432.89 69.96 L436.83 70.03 L440.78 70.09 L444.72 70.15 L448.67 70.21 L452.61 70.27 L456.56 70.33 L460.5 70.38" fill="none" stroke="#ff00ff" stroke-width="1.85" stroke-linejoin="round" />
</g>
<g clip-path="url(#cb)">
<path d="M616.66 24.5 L625.83 24.5 L635 27.5 L644.16 27.5 L653.33 27 L662.49 26.5 L680.82 26 L699.15 25.67 L744.98 25.33 L790.8 25.17 L974.1 25" fill="none" stroke="#808080" stroke-width="3.9" stroke-linejoin="round" stroke-dasharray="14.2 6.35"/>
<path d="M625.83 24.5 L626.7 30.79 L627.58 36.16 L628.45 40.79 L629.32 44.8 L630.19 48.31 L631.07 51.4 L631.94 54.13 L632.81 56.56 L633.69 58.73 L634.56 60.68 L635.43 62.43 L636.3 64.02 L637.18 65.46 L638.05 66.77 L638.92 67.97 L639.8 69.06 L640.67 70.07 L641.54 70.99 L642.41 71.85 L643.29 72.64 L644.16 73.37 L645.03 74.05 L645.91 74.68 L646.78 75.27 L647.65 75.82 L648.52 76.33 L649.4 76.81 L650.27 77.26 L651.14 77.68 L652.02 78.08 L652.89 78.46 L653.76 78.81 L654.63 79.14 L655.51 79.46 L656.38 79.75 L657.25 80.04 L658.13 80.3 L659 80.56 L659.87 80.8 L660.74 81.02 L661.62 81.24 L662.49 81.45 L663.36 81.64 L664.24 81.83 L665.11 82.01 L665.98 82.18 L666.85 82.35 L667.73 82.5 L668.6 82.65 L669.47 82.79 L670.35 82.93 L671.22 83.06 L672.09 83.19 L672.96 83.31 L673.84 83.43 L674.71 83.54 L675.58 83.65 L676.46 83.75 L677.33 83.85 L678.2 83.94 L679.07 84.04 L679.95 84.12 L680.82 84.21 L681.69 84.29 L682.57 84.37 L683.44 84.45 L684.31 84.52 L685.18 84.6 L686.06 84.66 L686.93 84.73 L687.8 84.8 L688.68 84.86 L689.55 84.92 L690.42 84.98 L691.29 85.04 L692.17 85.09 L693.04 85.14 L693.91 85.2 L694.79 85.25 L695.66 85.3 L696.53 85.34 L697.4 85.39 L698.28 85.43 L699.15 85.48 L700.02 85.52 L700.9 85.56 L701.77 85.6 L702.64 85.64 L703.51 85.68 L704.39 85.71 L705.26 85.75 L706.13 85.78 L707.01 85.82 L707.88 85.85 L708.75 85.88 L709.62 85.91 L710.5 85.94 L711.37 85.97 L712.24 86 L713.12 86.03 L713.99 86.06 L714.86 86.09 L715.73 86.11 L716.61 86.14 L717.48 86.16 L718.35 86.19 L719.23 86.21 L720.1 86.23 L720.97 86.26 L721.84 86.28 L722.72 86.3 L723.59 86.32 L724.46 86.34 L725.34 86.36 L726.21 86.38 L727.08 86.4 L727.95 86.42 L728.83 86.44 L729.7 86.46 L730.57 86.48 L731.45 86.49 L732.32 86.51 L733.19 86.53 L734.06 86.54 L734.94 86.56 L735.81 86.58 L736.68 86.59 L737.56 86.61 L738.43 86.62 L739.3 86.63 L740.17 86.65 L741.05 86.66 L741.92 86.68 L742.79 86.69 L743.67 86.7 L744.54 86.72 L745.41 86.73 L746.28 86.74 L747.16 86.75 L748.03 86.76 L748.9 86.78 L749.78 86.79 L750.65 86.8 L751.52 86.81 L752.39 86.82 L753.27 86.83 L754.14 86.84 L755.01 86.85 L755.89 86.86 L756.76 86.87 L757.63 86.88 L758.5 86.89 L759.38 86.9 L760.25 86.91 L761.12 86.92 L762 86.93 L762.87 86.94 L763.74 86.95 L764.61 86.95 L765.49 86.96 L766.36 86.97 L767.23 86.98 L768.11 86.99 L768.98 87 L769.85 87 L770.72 87.01 L771.6 87.02 L772.47 87.03 L773.34 87.03 L774.22 87.04 L775.09 87.05 L775.96 87.05 L776.83 87.06 L777.71 87.07 L778.58 87.07 L779.45 87.08 L780.33 87.09 L781.2 87.09 L782.07 87.1 L782.94 87.11 L783.82 87.11 L784.69 87.12 L785.56 87.12 L786.44 87.13 L787.31 87.13 L788.18 87.14 L789.05 87.15 L789.93 87.15 L790.8 87.16 L791.67 87.16 L792.55 87.17 L793.42 87.17 L794.29 87.18 L795.16 87.18 L796.04 87.19 L796.91 87.19 L797.78 87.2 L798.66 87.2 L799.53 87.21 L800.4 87.21 L801.27 87.21 L802.15 87.22 L803.02 87.22 L803.89 87.23 L804.77 87.23 L805.64 87.24 L806.51 87.24 L807.38 87.24 L808.26 87.25 L809.13 87.25 L810 87.26 L810.88 87.26 L811.75 87.26 L812.62 87.27 L813.49 87.27 L814.37 87.28 L815.24 87.28 L816.11 87.28 L816.99 87.29 L817.86 87.29 L818.73 87.29 L819.6 87.3 L820.48 87.3 L821.35 87.3 L822.22 87.31 L823.1 87.31 L823.97 87.31 L824.84 87.32 L825.71 87.32 L826.59 87.32 L827.46 87.33 L828.33 87.33 L829.21 87.33 L830.08 87.34 L830.95 87.34 L831.82 87.34 L832.7 87.34 L833.57 87.35 L834.44 87.35 L835.32 87.35 L836.19 87.36 L837.06 87.36 L837.93 87.36 L838.81 87.36 L839.68 87.37 L840.55 87.37 L841.43 87.37 L842.3 87.37 L843.17 87.38 L844.04 87.38 L844.92 87.38 L845.79 87.38 L846.66 87.39 L847.54 87.39 L848.41 87.39 L849.28 87.39 L850.15 87.4 L851.03 87.4 L851.9 87.4 L852.77 87.4 L853.65 87.4 L854.52 87.41 L855.39 87.41 L856.26 87.41 L857.14 87.41 L858.01 87.42 L858.88 87.42 L859.76 87.42 L860.63 87.42 L861.5 87.42 L862.37 87.43 L863.25 87.43 L864.12 87.43 L864.99 87.43 L865.87 87.43 L866.74 87.43 L867.61 87.44 L868.48 87.44 L869.36 87.44 L870.23 87.44 L871.1 87.44 L871.98 87.45 L872.85 87.45 L873.72 87.45 L874.59 87.45 L875.47 87.45 L876.34 87.45 L877.21 87.46 L878.09 87.46 L878.96 87.46 L879.83 87.46 L880.7 87.46 L881.58 87.46 L882.45 87.47 L883.32 87.47 L884.2 87.47 L885.07 87.47 L885.94 87.47 L886.81 87.47 L887.69 87.47 L888.56 87.48 L889.43 87.48 L890.31 87.48 L891.18 87.48 L892.05 87.48 L892.92 87.48 L893.8 87.48 L894.67 87.49 L895.54 87.49 L896.42 87.49 L897.29 87.49 L898.16 87.49 L899.03 87.49 L899.91 87.49 L900.78 87.5 L901.65 87.5 L902.53 87.5 L903.4 87.5 L904.27 87.5 L905.14 87.5 L906.02 87.5 L906.89 87.5 L907.76 87.51 L908.64 87.51 L909.51 87.51 L910.38 87.51 L911.25 87.51 L912.13 87.51 L913 87.51 L913.87 87.51 L914.75 87.51 L915.62 87.52 L916.49 87.52 L917.36 87.52 L918.24 87.52 L919.11 87.52 L919.98 87.52 L920.86 87.52 L921.73 87.52 L922.6 87.52 L923.47 87.53 L924.35 87.53 L925.22 87.53 L926.09 87.53 L926.97 87.53 L927.84 87.53 L928.71 87.53 L929.58 87.53 L930.46 87.53 L931.33 87.53 L932.2 87.54 L933.08 87.54 L933.95 87.54 L934.82 87.54 L935.69 87.54 L936.57 87.54 L937.44 87.54 L938.31 87.54 L939.19 87.54 L940.06 87.54 L940.93 87.54 L941.8 87.55 L942.68 87.55 L943.55 87.55 L944.42 87.55 L945.3 87.55 L946.17 87.55 L947.04 87.55 L947.91 87.55 L948.79 87.55 L949.66 87.55 L950.53 87.55 L951.41 87.55 L952.28 87.56 L953.15 87.56 L954.02 87.56 L954.9 87.56 L955.77 87.56 L956.64 87.56 L957.52 87.56 L958.39 87.56 L959.26 87.56 L960.13 87.56 L961.01 87.56 L961.88 87.56 L962.75 87.56 L963.63 87.57 L964.5 87.57 L965.37 87.57 L966.24 87.57 L967.12 87.57 L967.99 87.57 L968.86 87.57 L969.74 87.57 L970.61 87.57 L971.48 87.57 L972.35 87.57 L973.23 87.57 L974.1 87.57" fill="none" stroke="#9966ff" stroke-width="2.5" stroke-linejoin="round" stroke-dasharray="2.5 4.1"/>
<path d="M616.66 24.5 L625.83 24.5 L635 46.86 L644.16 53.2 L653.33 60.54 L662.49 64.21 L671.65 67.71 L680.82 69.55 L689.99 71.55 L699.15 72.55 L708.32 73.55 L717.48 74.89 L726.64 75.89 L735.81 76.72 L744.98 77.39 L754.14 78.26 L763.31 78.76 L772.47 79.21 L781.63 79.62 L790.8 79.98 L799.97 80.31 L809.13 80.62 L818.29 80.89 L827.46 81.15 L836.62 81.39 L845.79 81.6 L854.96 81.81 L864.12 82 L873.29 82.18 L882.45 82.34 L891.62 82.5 L900.78 82.64 L909.94 82.78 L919.11 82.91 L928.28 83.04 L937.44 83.15 L946.61 83.26 L955.77 83.37 L964.93 83.47 L974.1 83.56" fill="none" stroke="#4db3ff" stroke-width="2.5" stroke-linejoin="round" />
<circle cx="625.83" cy="24.5" r="3.95" fill="#ff00ff"/>
<circle cx="635" cy="44.19" r="3.95" fill="#ff00ff"/>
<circle cx="644.16" cy="50.19" r="3.95" fill="#ff00ff"/>
<circle cx="653.33" cy="57.2" r="3.95" fill="#ff00ff"/>
<circle cx="662.49" cy="59.87" r="3.95" fill="#ff00ff"/>
<circle cx="671.65" cy="63.38" r="3.95" fill="#ff00ff"/>
<circle cx="680.82" cy="64.88" r="3.95" fill="#ff00ff"/>
<circle cx="689.99" cy="67.21" r="3.95" fill="#ff00ff"/>
<circle cx="699.15" cy="67.71" r="3.95" fill="#ff00ff"/>
<circle cx="708.32" cy="68.21" r="3.95" fill="#ff00ff"/>
<circle cx="717.48" cy="68.98" r="3.95" fill="#ff00ff"/>
<circle cx="726.64" cy="73.55" r="3.95" fill="#ff00ff"/>
<circle cx="735.81" cy="69.88" r="3.95" fill="#ff00ff"/>
<circle cx="744.98" cy="69.55" r="3.95" fill="#ff00ff"/>
</g>
<rect x="93.9" y="24.5" width="366.6" height="333.7" fill="none" stroke="#000" stroke-width="1.5"/>
<line x1="88.2" y1="358.2" x2="93.9" y2="358.2" stroke="#000" stroke-width="1.5" />
<text x="82.7" y="367.7" font-family='"Liberation Serif", serif' font-size="24.3" text-anchor="end" stroke="#fff" stroke-width="0.28" textLength="29.3" lengthAdjust="spacingAndGlyphs">0.0</text>
<line x1="88.2" y1="291.46" x2="93.9" y2="291.46" stroke="#000" stroke-width="1.5" />
<text x="82.7" y="300.96" font-family='"Liberation Serif", serif' font-size="24.3" text-anchor="end" stroke="#fff" stroke-width="0.28" textLength="29.3" lengthAdjust="spacingAndGlyphs">0.2</text>
<line x1="88.2" y1="224.72" x2="93.9" y2="224.72" stroke="#000" stroke-width="1.5" />
<text x="82.7" y="234.22" font-family='"Liberation Serif", serif' font-size="24.3" text-anchor="end" stroke="#fff" stroke-width="0.28" textLength="29.3" lengthAdjust="spacingAndGlyphs">0.4</text>
<line x1="88.2" y1="157.98" x2="93.9" y2="157.98" stroke="#000" stroke-width="1.5" />
<text x="82.7" y="167.48" font-family='"Liberation Serif", serif' font-size="24.3" text-anchor="end" stroke="#fff" stroke-width="0.28" textLength="29.3" lengthAdjust="spacingAndGlyphs">0.6</text>
<line x1="88.2" y1="91.24" x2="93.9" y2="91.24" stroke="#000" stroke-width="1.5" />
<text x="82.7" y="100.74" font-family='"Liberation Serif", serif' font-size="24.3" text-anchor="end" stroke="#fff" stroke-width="0.28" textLength="29.3" lengthAdjust="spacingAndGlyphs">0.8</text>
<line x1="88.2" y1="24.5" x2="93.9" y2="24.5" stroke="#000" stroke-width="1.5" />
<text x="82.7" y="34" font-family='"Liberation Serif", serif' font-size="24.3" text-anchor="end" stroke="#fff" stroke-width="0.28" textLength="29.3" lengthAdjust="spacingAndGlyphs">1.0</text>
<rect x="607.5" y="24.5" width="366.6" height="333.7" fill="none" stroke="#000" stroke-width="1.5"/>
<line x1="601.8" y1="358.2" x2="607.5" y2="358.2" stroke="#000" stroke-width="1.5" />
<text x="596.3" y="367.7" font-family='"Liberation Serif", serif' font-size="24.3" text-anchor="end" stroke="#fff" stroke-width="0.28" textLength="29.3" lengthAdjust="spacingAndGlyphs">0.0</text>
<line x1="601.8" y1="291.46" x2="607.5" y2="291.46" stroke="#000" stroke-width="1.5" />
<text x="596.3" y="300.96" font-family='"Liberation Serif", serif' font-size="24.3" text-anchor="end" stroke="#fff" stroke-width="0.28" textLength="29.3" lengthAdjust="spacingAndGlyphs">0.2</text>
<line x1="601.8" y1="224.72" x2="607.5" y2="224.72" stroke="#000" stroke-width="1.5" />
<text x="596.3" y="234.22" font-family='"Liberation Serif", serif' font-size="24.3" text-anchor="end" stroke="#fff" stroke-width="0.28" textLength="29.3" lengthAdjust="spacingAndGlyphs">0.4</text>
<line x1="601.8" y1="157.98" x2="607.5" y2="157.98" stroke="#000" stroke-width="1.5" />
<text x="596.3" y="167.48" font-family='"Liberation Serif", serif' font-size="24.3" text-anchor="end" stroke="#fff" stroke-width="0.28" textLength="29.3" lengthAdjust="spacingAndGlyphs">0.6</text>
<line x1="601.8" y1="91.24" x2="607.5" y2="91.24" stroke="#000" stroke-width="1.5" />
<text x="596.3" y="100.74" font-family='"Liberation Serif", serif' font-size="24.3" text-anchor="end" stroke="#fff" stroke-width="0.28" textLength="29.3" lengthAdjust="spacingAndGlyphs">0.8</text>
<line x1="601.8" y1="24.5" x2="607.5" y2="24.5" stroke="#000" stroke-width="1.5" />
<text x="596.3" y="34" font-family='"Liberation Serif", serif' font-size="24.3" text-anchor="end" stroke="#fff" stroke-width="0.28" textLength="29.3" lengthAdjust="spacingAndGlyphs">1.0</text>
<line x1="93.9" y1="358.2" x2="93.9" y2="363.9" stroke="#000" stroke-width="1.5" />
<text x="93.9" y="385.8" font-family='"Liberation Serif", serif' font-size="24.3" text-anchor="middle" stroke="#fff" stroke-width="0.28" textLength="11.6" lengthAdjust="spacingAndGlyphs">0</text>
<line x1="185.55" y1="358.2" x2="185.55" y2="363.9" stroke="#000" stroke-width="1.5" />
<text x="185.55" y="385.8" font-family='"Liberation Serif", serif' font-size="24.3" text-anchor="middle" stroke="#fff" stroke-width="0.28" textLength="11.6" lengthAdjust="spacingAndGlyphs">5</text>
<line x1="277.2" y1="358.2" x2="277.2" y2="363.9" stroke="#000" stroke-width="1.5" />
<text x="277.2" y="385.8" font-family='"Liberation Serif", serif' font-size="24.3" text-anchor="middle" stroke="#fff" stroke-width="0.28" textLength="23.2" lengthAdjust="spacingAndGlyphs">10</text>
<line x1="368.85" y1="358.2" x2="368.85" y2="363.9" stroke="#000" stroke-width="1.5" />
<text x="368.85" y="385.8" font-family='"Liberation Serif", serif' font-size="24.3" text-anchor="middle" stroke="#fff" stroke-width="0.28" textLength="23.2" lengthAdjust="spacingAndGlyphs">15</text>
<line x1="460.5" y1="358.2" x2="460.5" y2="363.9" stroke="#000" stroke-width="1.5" />
<text x="460.5" y="385.8" font-family='"Liberation Serif", serif' font-size="24.3" text-anchor="middle" stroke="#fff" stroke-width="0.28" textLength="23.2" lengthAdjust="spacingAndGlyphs">20</text>
<line x1="607.5" y1="358.2" x2="607.5" y2="363.9" stroke="#000" stroke-width="1.5" />
<text x="607.5" y="385.8" font-family='"Liberation Serif", serif' font-size="24.3" text-anchor="middle" stroke="#fff" stroke-width="0.28" textLength="11.6" lengthAdjust="spacingAndGlyphs">0</text>
<line x1="699.15" y1="358.2" x2="699.15" y2="363.9" stroke="#000" stroke-width="1.5" />
<text x="699.15" y="385.8" font-family='"Liberation Serif", serif' font-size="24.3" text-anchor="middle" stroke="#fff" stroke-width="0.28" textLength="23.2" lengthAdjust="spacingAndGlyphs">10</text>
<line x1="790.8" y1="358.2" x2="790.8" y2="363.9" stroke="#000" stroke-width="1.5" />
<text x="790.8" y="385.8" font-family='"Liberation Serif", serif' font-size="24.3" text-anchor="middle" stroke="#fff" stroke-width="0.28" textLength="23.2" lengthAdjust="spacingAndGlyphs">20</text>
<line x1="882.45" y1="358.2" x2="882.45" y2="363.9" stroke="#000" stroke-width="1.5" />
<text x="882.45" y="385.8" font-family='"Liberation Serif", serif' font-size="24.3" text-anchor="middle" stroke="#fff" stroke-width="0.28" textLength="23.2" lengthAdjust="spacingAndGlyphs">30</text>
<line x1="974.1" y1="358.2" x2="974.1" y2="363.9" stroke="#000" stroke-width="1.5" />
<text x="974.1" y="385.8" font-family='"Liberation Serif", serif' font-size="24.3" text-anchor="middle" stroke="#fff" stroke-width="0.28" textLength="23.2" lengthAdjust="spacingAndGlyphs">40</text>
<text x="11.4" y="35.4" font-family='"Liberation Sans", sans-serif' font-size="33.8" text-anchor="start" stroke="#fff" stroke-width="0.7">(</text>
<text x="21.8" y="34.1" font-family='"Liberation Sans", sans-serif' font-size="25.5" text-anchor="start" textLength="12.6" lengthAdjust="spacingAndGlyphs" stroke="#fff" stroke-width="0.3">a</text>
<text x="37.1" y="35.4" font-family='"Liberation Sans", sans-serif' font-size="33.8" text-anchor="start" stroke="#fff" stroke-width="0.7">)</text>
<text x="524.8" y="35.4" font-family='"Liberation Sans", sans-serif' font-size="33.8" text-anchor="start" stroke="#fff" stroke-width="0.7">(</text>
<text x="536.7" y="34.1" font-family='"Liberation Sans", sans-serif' font-size="28.4" text-anchor="start" textLength="14.6" lengthAdjust="spacingAndGlyphs" stroke="#fff" stroke-width="0.3">b</text>
<text x="552.2" y="35.4" font-family='"Liberation Sans", sans-serif' font-size="33.8" text-anchor="start" stroke="#fff" stroke-width="0.7">)</text>
<text x="239" y="419.8" font-family='"Liberation Serif", serif' font-size="30.5" text-anchor="start" font-style="italic" stroke="#fff" stroke-width="0.57" textLength="21.8" lengthAdjust="spacingAndGlyphs">B</text>
<text x="263.2" y="424.2" font-family='"Liberation Serif", serif' font-size="21.5" text-anchor="start" font-style="italic" stroke="#fff" stroke-width="0.25" >y</text>
<line x1="275.2" y1="427.6" x2="286.9" y2="396.8" stroke="#000" stroke-width="1.4" />
<text x="290.3" y="419.8" font-family='"Liberation Serif", serif' font-size="30.5" text-anchor="start" font-style="italic" stroke="#fff" stroke-width="0.57" textLength="16.6" lengthAdjust="spacingAndGlyphs">J</text>
<text x="306.8" y="425" font-family='"Liberation Serif", serif' font-size="21.5" text-anchor="start" stroke="#fff" stroke-width="0.25" >0</text>
<text x="782.4" y="417.8" font-family='"Liberation Serif", serif' font-size="30.5" text-anchor="start" font-style="italic" stroke="#fff" stroke-width="0.57" textLength="19.8" lengthAdjust="spacingAndGlyphs">L</text>
<g transform="rotate(-90)">
<line x1="-251.4" y1="16.2" x2="-251.4" y2="47" stroke="#000" stroke-width="1.5" />
<line x1="-196.6" y1="16.2" x2="-196.6" y2="47" stroke="#000" stroke-width="1.5" />
<line x1="-141.4" y1="16.2" x2="-141.4" y2="47" stroke="#000" stroke-width="1.5" />
<path d="M-237.1 16.4 L-243.4 31.6 L-237.1 46.8" fill="none" stroke="#000" stroke-width="1.5"/>
<path d="M-155.7 16.4 L-149.6 31.6 L-155.7 46.8" fill="none" stroke="#000" stroke-width="1.5"/>
<text x="-233.1" y="39.6" font-family='"Liberation Serif", serif' font-size="32" text-anchor="start" font-style="italic" stroke="#fff" stroke-width="0.71" textLength="22.4" lengthAdjust="spacingAndGlyphs">E</text>
<text x="-212.8" y="44.5" font-family='"Liberation Serif", serif' font-size="21.5" text-anchor="start" stroke="#fff" stroke-width="0.25" >1</text>
<text x="-190.4" y="39.6" font-family='"Liberation Serif", serif' font-size="32" text-anchor="start" font-style="italic" stroke="#fff" stroke-width="0.71" textLength="22.4" lengthAdjust="spacingAndGlyphs">E</text>
<text x="-169.1" y="47.1" font-family='"Liberation Serif", serif' font-size="22.3" text-anchor="start" stroke="#fff" stroke-width="0.26" textLength="10.1" lengthAdjust="spacingAndGlyphs">0</text>
<path d="M-162.1 16.6 L-164.4 15.9 L-167.3 26 Z" fill="#000" stroke="#000" stroke-width="0.6" stroke-linejoin="round"/>
<text x="-137.2" y="28.4" font-family='"Liberation Serif", serif' font-size="22.3" text-anchor="start" stroke="#fff" stroke-width="0.26" textLength="10.1" lengthAdjust="spacingAndGlyphs">2</text>
</g>
<g transform="rotate(-90)">
<text x="-244.6" y="555" font-family='"Liberation Sans", sans-serif' font-size="33.6" text-anchor="start" textLength="22.8" lengthAdjust="spacingAndGlyphs">O</text>
<text x="-221.8" y="554.5" font-family='"Liberation Sans", sans-serif' font-size="26.2" text-anchor="start" textLength="83.4" lengthAdjust="spacingAndGlyphs">verlaps</text>
</g>
<text x="334.9" y="120.6" font-family='"Liberation Serif", serif' font-size="21.6" text-anchor="start" font-style="italic" stroke="#fff" stroke-width="0.25" textLength="14.6" lengthAdjust="spacingAndGlyphs">L</text>
<line x1="241.3" y1="143.42" x2="287" y2="143.42" stroke="#00ffff" stroke-width="1.75" />
<line x1="357.5" y1="143.42" x2="402.5" y2="143.42" stroke="#8976ff" stroke-width="1.75" />
<text x="303.5" y="150.62" font-family='"Liberation Serif", serif' font-size="21.6" text-anchor="start" stroke="#fff" stroke-width="0.25" >2</text>
<text x="419" y="150.62" font-family='"Liberation Serif", serif' font-size="21.6" text-anchor="start" stroke="#fff" stroke-width="0.25" >9</text>
<line x1="241.3" y1="173.99" x2="287" y2="173.99" stroke="#14ebff" stroke-width="1.75" />
<line x1="357.5" y1="173.99" x2="402.5" y2="173.99" stroke="#9d62ff" stroke-width="1.75" />
<text x="303.5" y="181.19" font-family='"Liberation Serif", serif' font-size="21.6" text-anchor="start" stroke="#fff" stroke-width="0.25" >3</text>
<text x="419" y="181.19" font-family='"Liberation Serif", serif' font-size="21.6" text-anchor="start" stroke="#fff" stroke-width="0.25" >10</text>
<line x1="241.3" y1="204.56" x2="287" y2="204.56" stroke="#27d8ff" stroke-width="1.75" />
<line x1="357.5" y1="204.56" x2="402.5" y2="204.56" stroke="#b14eff" stroke-width="1.75" />
<text x="303.5" y="211.76" font-family='"Liberation Serif", serif' font-size="21.6" text-anchor="start" stroke="#fff" stroke-width="0.25" >4</text>
<text x="419" y="211.76" font-family='"Liberation Serif", serif' font-size="21.6" text-anchor="start" stroke="#fff" stroke-width="0.25" >11</text>
<line x1="241.3" y1="235.13" x2="287" y2="235.13" stroke="#3bc4ff" stroke-width="1.75" />
<line x1="357.5" y1="235.13" x2="402.5" y2="235.13" stroke="#c43bff" stroke-width="1.75" />
<text x="303.5" y="242.33" font-family='"Liberation Serif", serif' font-size="21.6" text-anchor="start" stroke="#fff" stroke-width="0.25" >5</text>
<text x="419" y="242.33" font-family='"Liberation Serif", serif' font-size="21.6" text-anchor="start" stroke="#fff" stroke-width="0.25" >12</text>
<line x1="241.3" y1="265.7" x2="287" y2="265.7" stroke="#4eb1ff" stroke-width="1.75" />
<line x1="357.5" y1="265.7" x2="402.5" y2="265.7" stroke="#d827ff" stroke-width="1.75" />
<text x="303.5" y="272.9" font-family='"Liberation Serif", serif' font-size="21.6" text-anchor="start" stroke="#fff" stroke-width="0.25" >6</text>
<text x="419" y="272.9" font-family='"Liberation Serif", serif' font-size="21.6" text-anchor="start" stroke="#fff" stroke-width="0.25" >13</text>
<line x1="241.3" y1="296.27" x2="287" y2="296.27" stroke="#629dff" stroke-width="1.75" />
<line x1="357.5" y1="296.27" x2="402.5" y2="296.27" stroke="#eb14ff" stroke-width="1.75" />
<text x="303.5" y="303.47" font-family='"Liberation Serif", serif' font-size="21.6" text-anchor="start" stroke="#fff" stroke-width="0.25" >7</text>
<text x="419" y="303.47" font-family='"Liberation Serif", serif' font-size="21.6" text-anchor="start" stroke="#fff" stroke-width="0.25" >14</text>
<line x1="241.3" y1="326.84" x2="287" y2="326.84" stroke="#7689ff" stroke-width="1.75" />
<line x1="357.5" y1="326.84" x2="402.5" y2="326.84" stroke="#ff00ff" stroke-width="1.75" />
<text x="303.5" y="334.04" font-family='"Liberation Serif", serif' font-size="21.6" text-anchor="start" stroke="#fff" stroke-width="0.25" >8</text>
<text x="419" y="334.04" font-family='"Liberation Serif", serif' font-size="21.6" text-anchor="start" stroke="#fff" stroke-width="0.25" >15</text>
<circle cx="663.1" cy="220.5" r="3.95" fill="#ff00ff"/>
<line x1="699.2" y1="213.3" x2="699.2" y2="231.7" stroke="#000" stroke-width="1.15" />
<path d="M708.2 213.5 L703.3 222.5 L708.2 231.5" fill="none" stroke="#000" stroke-width="1.15" stroke-linejoin="miter"/>
<text x="709.8" y="227.4" font-family='"Liberation Serif", serif' font-size="19" text-anchor="start" font-style="italic" stroke="#fff" stroke-width="0.35" textLength="13.9" lengthAdjust="spacingAndGlyphs">E</text>
<text x="724.3" y="230.3" font-family='"Liberation Serif", serif' font-size="13" text-anchor="start" >1</text>
<line x1="732.7" y1="213.3" x2="732.7" y2="231.7" stroke="#000" stroke-width="1.15" />
<text x="735.4" y="227.4" font-family='"Liberation Serif", serif' font-size="19" text-anchor="start" font-style="italic" stroke="#fff" stroke-width="0.35" textLength="13.9" lengthAdjust="spacingAndGlyphs">E</text>
<text x="749.4" y="230.3" font-family='"Liberation Serif", serif' font-size="13" text-anchor="start" >0</text>
<path d="M752.42 213.8 L750.6 218.6" stroke="#000" stroke-width="1.2" stroke-linecap="round"/>
<path d="M757 213.5 L761.9 222.5 L757 231.5" fill="none" stroke="#000" stroke-width="1.15" stroke-linejoin="miter"/>
<line x1="766.2" y1="213.3" x2="766.2" y2="231.7" stroke="#000" stroke-width="1.15" />
<text x="769.3" y="220.8" font-family='"Liberation Serif", serif' font-size="13" text-anchor="start" >2</text>
<text x="781.6" y="227.9" font-family='"Liberation Sans", sans-serif' font-size="20.6" text-anchor="start" stroke="#fff" stroke-width="0.45">(</text>
<text x="788.6" y="227.4" font-family='"Liberation Sans", sans-serif' font-size="17.2" text-anchor="start" textLength="90.4" lengthAdjust="spacingAndGlyphs" stroke="#fff" stroke-width="0.12">Exact diag.,</text>
<text x="889.3" y="218" font-family='"Liberation Serif", serif' font-size="13" text-anchor="start" font-style="italic" >B</text>
<text x="897.6" y="220.2" font-family='"Liberation Serif", serif' font-size="9.5" text-anchor="start" font-style="italic" >y</text>
<line x1="888.3" y1="222.7" x2="905.2" y2="222.7" stroke="#000" stroke-width="0.9" />
<text x="891.3" y="233.6" font-family='"Liberation Serif", serif' font-size="13" text-anchor="start" font-style="italic" >J</text>
<text x="898.6" y="235.6" font-family='"Liberation Serif", serif' font-size="9.5" text-anchor="start" >0</text>
<line x1="913" y1="220.2" x2="925.3" y2="220.2" stroke="#000" stroke-width="1" />
<line x1="913" y1="224" x2="925.3" y2="224" stroke="#000" stroke-width="1" />
<text x="931.7" y="227.4" font-family='"Liberation Serif", serif' font-size="18.4" text-anchor="start" stroke="#fff" stroke-width="0.21" >20</text>
<text x="950.3" y="227.9" font-family='"Liberation Sans", sans-serif' font-size="20.6" text-anchor="start" stroke="#fff" stroke-width="0.45">)</text>
<line x1="643.5" y1="256.8" x2="682.7" y2="256.8" stroke="#4db3ff" stroke-width="2.5" />
<line x1="699.2" y1="250.6" x2="699.2" y2="269" stroke="#000" stroke-width="1.15" />
<path d="M708.2 250.8 L703.3 259.8 L708.2 268.8" fill="none" stroke="#000" stroke-width="1.15" stroke-linejoin="miter"/>
<text x="709.8" y="264.7" font-family='"Liberation Serif", serif' font-size="19" text-anchor="start" font-style="italic" stroke="#fff" stroke-width="0.35" textLength="13.9" lengthAdjust="spacingAndGlyphs">E</text>
<text x="723.4" y="267.6" font-family='"Liberation Serif", serif' font-size="13" text-anchor="start" >1</text>
<text x="724.4" y="254.8" font-family='"Liberation Serif", serif' font-size="13" text-anchor="start" textLength="25.9" lengthAdjust="spacingAndGlyphs">(SE)</text>
<line x1="753.6" y1="250.6" x2="753.6" y2="269" stroke="#000" stroke-width="1.15" />
<text x="757" y="264.7" font-family='"Liberation Serif", serif' font-size="19" text-anchor="start" font-style="italic" stroke="#fff" stroke-width="0.35" textLength="13.9" lengthAdjust="spacingAndGlyphs">E</text>
<text x="770.6" y="267.6" font-family='"Liberation Serif", serif' font-size="13" text-anchor="start" >0</text>
<text x="771.9" y="254.8" font-family='"Liberation Serif", serif' font-size="13" text-anchor="start" textLength="15.6" lengthAdjust="spacingAndGlyphs">(0)</text>
<path d="M790.42 246.2 L788.6 251" stroke="#000" stroke-width="1.2" stroke-linecap="round"/>
<path d="M793 250.8 L798.2 259.8 L793 268.8" fill="none" stroke="#000" stroke-width="1.15" stroke-linejoin="miter"/>
<line x1="802.5" y1="250.6" x2="802.5" y2="269" stroke="#000" stroke-width="1.15" />
<text x="805.4" y="258.1" font-family='"Liberation Serif", serif' font-size="13" text-anchor="start" >2</text>
<line x1="643.5" y1="290.3" x2="682.7" y2="290.3" stroke="#808080" stroke-width="3.9" stroke-dasharray="14.2 6.35"/>
<line x1="699.2" y1="282.1" x2="699.2" y2="300.5" stroke="#000" stroke-width="1.15" />
<path d="M708.2 282.3 L703.3 291.3 L708.2 300.3" fill="none" stroke="#000" stroke-width="1.15" stroke-linejoin="miter"/>
<text x="709.6" y="296.2" font-family='"Liberation Serif", serif' font-size="18.4" text-anchor="start" stroke="#fff" stroke-width="0.21" >&#934;</text>
<text x="722.9" y="299.1" font-family='"Liberation Serif", serif' font-size="13" text-anchor="start" >1</text>
<line x1="732.6" y1="282.1" x2="732.6" y2="300.5" stroke="#000" stroke-width="1.15" />
<text x="736" y="296.2" font-family='"Liberation Serif", serif' font-size="19" text-anchor="start" font-style="italic" stroke="#fff" stroke-width="0.35" textLength="13.9" lengthAdjust="spacingAndGlyphs">E</text>
<text x="749.8" y="299.1" font-family='"Liberation Serif", serif' font-size="13" text-anchor="start" >1</text>
<text x="750.9" y="286.3" font-family='"Liberation Serif", serif' font-size="13" text-anchor="start" textLength="25.9" lengthAdjust="spacingAndGlyphs">(SE)</text>
<path d="M778 282.3 L783.4 291.3 L778 300.3" fill="none" stroke="#000" stroke-width="1.15" stroke-linejoin="miter"/>
<line x1="786.6" y1="282.1" x2="786.6" y2="300.5" stroke="#000" stroke-width="1.15" />
<text x="789.5" y="289.6" font-family='"Liberation Serif", serif' font-size="13" text-anchor="start" >2</text>
<line x1="643.5" y1="323" x2="682.7" y2="323" stroke="#9966ff" stroke-width="2.5" stroke-dasharray="2.5 4.1"/>
<line x1="699.2" y1="315.6" x2="699.2" y2="334" stroke="#000" stroke-width="1.15" />
<path d="M708.2 315.8 L703.3 324.8 L708.2 333.8" fill="none" stroke="#000" stroke-width="1.15" stroke-linejoin="miter"/>
<text x="709.6" y="329.7" font-family='"Liberation Serif", serif' font-size="18.4" text-anchor="start" stroke="#fff" stroke-width="0.21" >&#934;</text>
<text x="722.9" y="332.6" font-family='"Liberation Serif", serif' font-size="13" text-anchor="start" >1</text>
<line x1="732.7" y1="315.6" x2="732.7" y2="334" stroke="#000" stroke-width="1.15" />
<text x="736" y="329.7" font-family='"Liberation Serif", serif' font-size="19" text-anchor="start" font-style="italic" stroke="#fff" stroke-width="0.35" textLength="13.9" lengthAdjust="spacingAndGlyphs">E</text>
<text x="749.8" y="332.6" font-family='"Liberation Serif", serif' font-size="13" text-anchor="start" >0</text>
<text x="751.3" y="319.8" font-family='"Liberation Serif", serif' font-size="13" text-anchor="start" textLength="15.6" lengthAdjust="spacingAndGlyphs">(0)</text>
<path d="M769.82 311.3 L768 316.1" stroke="#000" stroke-width="1.2" stroke-linecap="round"/>
<path d="M772 315.8 L777.8 324.8 L772 333.8" fill="none" stroke="#000" stroke-width="1.15" stroke-linejoin="miter"/>
<line x1="780.7" y1="315.6" x2="780.7" y2="334" stroke="#000" stroke-width="1.15" />
<text x="783.5" y="323.1" font-family='"Liberation Serif", serif' font-size="13" text-anchor="start" >2</text>
<line x1="797.3" y1="323.1" x2="809.8" y2="323.1" stroke="#000" stroke-width="1" />
<line x1="797.3" y1="326.7" x2="809.8" y2="326.7" stroke="#000" stroke-width="1" />
<text x="847.3" y="322.6" font-family='"Liberation Serif", serif' font-size="13" text-anchor="middle" >2</text>
<line x1="817.4" y1="324.6" x2="877.6" y2="324.6" stroke="#000" stroke-width="0.9" />
<text x="818" y="336.8" font-family='"Liberation Serif", serif' font-size="13" text-anchor="start" font-style="italic" textLength="9.3" lengthAdjust="spacingAndGlyphs">L</text>
<text x="827.4" y="332.4" font-family='"Liberation Serif", serif' font-size="9.2" text-anchor="start" >2</text>
<text x="835.8" y="336.8" font-family='"Liberation Serif", serif' font-size="13" text-anchor="start" >sin</text>
<text x="852.2" y="332.4" font-family='"Liberation Serif", serif' font-size="9.2" text-anchor="start" >2</text>
<text x="869.2" y="331.2" font-family='"Liberation Serif", serif' font-size="9.2" text-anchor="middle" font-style="italic" >&#960;</text>
<line x1="862" y1="332.6" x2="876.2" y2="332.6" stroke="#000" stroke-width="0.8" />
<text x="864.2" y="341.2" font-family='"Liberation Serif", serif' font-size="9.2" text-anchor="start" >2</text>
<text x="869" y="341.2" font-family='"Liberation Serif", serif' font-size="9.2" text-anchor="start" font-style="italic" >L</text>
</svg>
</body></html>
